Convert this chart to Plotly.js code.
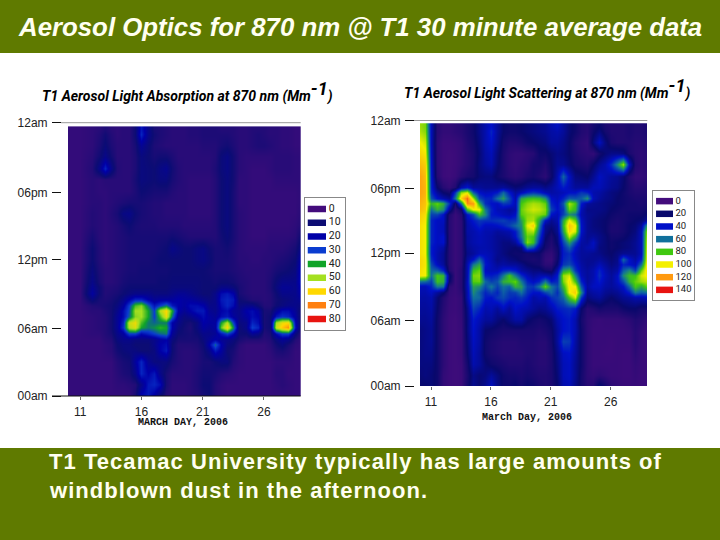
<!DOCTYPE html>
<html><head><meta charset="utf-8">
<script src="https://cdn.plot.ly/plotly-3.0.1.min.js"></script>
<style>html,body{margin:0;padding:0;background:#5f7a00}
text[data-unformatted^="T1 Tecamac"],text[data-unformatted^="windblown"]{letter-spacing:1.05px}</style></head>
<body><div id="c" style="width:720px;height:540px"></div>
<script>
const hourTicks=[0,5.9,12,17.85,24];
const hourLabels=['00am','06am','12pm','06pm','12am'];
const dayTicks=[11,16,21,26];
const absDays=[10,11,12,12.5,13,13.5,14,14.5,15,15.5,16,16.5,17,17.5,18,18.5,19,19.5,20,20.5,21,21.5,22,22.5,23,23.5,24,24.5,25,25.5,26,26.5,27,27.5,28,28.5,29];
const absHours=[0,1,2,3,4,4.5,5,5.5,6,6.5,7,7.5,8,8.5,9,9.5,10,11,12,13,14,15,16,17,18,19,20,21,22,23,23.45];
const absorption=[
[3,3,3,3,3,3,3,3,3,8,22,24,18,10,5,4,4,4,5,6,8,10,6,4,3,3,3,3,3,3,3,3,3,3,3,3,3],
[3,3,3,3,3,3,4,4,5,6,14,24,26,22,8,4,4,4,5,7,10,10,6,4,3,3,3,3,3,3,3,3,4,5,4,3,3],
[3,3,3,3,3,3,5,7,8,14,26,20,24,14,8,5,5,5,5,7,9,9,8,6,5,4,3,3,3,3,3,3,5,5,3,3,3],
[3,3,3,3,3,3,6,8,9,18,26,16,12,12,12,8,6,5,5,6,8,8,10,12,12,6,4,3,3,3,3,3,4,4,4,3,3],
[3,3,3,3,4,5,9,11,12,12,10,10,12,20,24,10,6,5,5,6,9,14,24,18,10,8,4,3,3,3,3,4,7,8,6,3,3],
[3,3,3,3,4,5,10,12,12,10,10,10,14,20,22,10,6,6,6,7,10,20,34,20,12,10,5,3,3,3,3,5,9,12,8,4,3],
[3,3,3,3,5,6,12,14,14,12,12,12,14,18,20,12,8,8,8,8,12,16,20,16,14,12,8,6,6,6,5,6,12,16,14,6,3],
[3,3,4,4,6,8,14,18,30,30,22,26,30,34,36,16,10,9,8,10,14,14,16,24,30,22,10,10,16,14,6,8,22,30,30,12,4],
[3,3,4,5,6,9,16,28,52,56,40,36,38,42,40,20,12,9,7,12,18,16,18,46,60,38,10,14,30,26,8,10,54,62,68,24,5],
[3,3,4,5,6,9,16,26,54,58,44,36,34,36,36,20,14,10,8,12,20,18,18,40,52,30,12,14,26,22,8,10,50,58,60,22,6],
[3,3,4,5,6,9,16,22,34,48,50,40,30,44,58,34,16,12,14,18,22,18,16,22,24,18,14,18,22,20,8,10,24,28,26,18,8],
[3,3,5,5,7,9,14,22,32,50,50,40,30,52,60,40,20,16,20,24,24,16,14,20,22,16,14,20,22,18,8,8,16,22,22,16,8],
[3,3,6,7,8,9,12,18,30,44,48,34,24,30,36,24,20,18,22,22,20,14,14,22,26,22,12,14,14,10,6,6,10,12,14,14,12],
[3,3,12,8,7,8,10,14,20,26,26,20,16,18,18,18,20,18,18,16,14,12,14,24,26,24,10,8,6,6,5,6,9,11,12,14,16],
[3,3,18,10,6,7,8,10,12,14,14,14,12,12,12,14,16,16,14,12,10,10,14,22,24,20,8,6,5,5,5,6,10,14,14,14,20],
[3,3,16,10,6,6,7,9,10,10,10,10,10,10,10,12,12,12,12,11,10,10,10,14,14,12,8,6,5,5,5,7,12,16,16,14,22],
[3,3,14,8,5,5,6,8,9,9,9,9,9,10,10,11,11,11,11,11,10,10,9,10,10,9,7,6,5,5,5,7,11,14,14,14,24],
[3,3,12,7,5,5,6,7,8,8,9,9,9,9,9,10,10,10,10,10,10,9,8,8,8,7,6,5,5,5,5,6,8,9,10,12,24],
[3,3,10,6,4,5,6,7,8,8,8,8,9,10,10,10,10,10,10,12,13,11,8,8,8,7,5,5,4,4,5,5,6,7,8,10,20],
[3,3,10,6,4,5,6,7,8,8,8,8,8,9,10,14,12,10,10,12,13,10,8,8,9,7,5,4,4,4,4,5,5,5,6,8,14],
[3,3,8,5,4,5,6,7,8,8,8,8,8,8,8,9,8,7,6,6,6,6,6,9,11,8,5,4,3,3,3,4,4,4,4,5,10],
[3,3,6,5,4,5,6,8,10,8,7,7,7,6,6,6,6,5,5,5,5,5,6,10,12,8,5,4,3,3,3,3,3,3,3,4,6],
[3,3,6,5,4,6,8,13,14,10,8,7,6,6,5,5,5,5,4,4,4,4,6,10,12,8,5,4,3,3,3,3,3,3,3,3,5],
[3,3,5,5,4,5,6,7,8,8,8,7,6,6,5,5,5,5,4,4,4,4,6,10,12,8,4,4,3,3,3,3,3,3,3,3,4],
[3,3,5,4,4,5,5,5,5,7,10,9,8,8,8,6,5,5,4,4,4,4,6,10,12,8,4,4,3,3,3,3,3,3,3,3,4],
[3,3,5,4,5,5,5,5,5,8,12,11,10,12,12,8,6,5,4,4,4,4,6,10,12,9,4,4,3,3,3,3,4,4,4,4,4],
[3,3,6,14,26,14,6,5,5,7,12,11,10,13,15,9,6,5,5,5,5,5,7,11,13,9,5,4,3,3,3,4,5,5,5,4,4],
[3,3,5,9,14,9,5,5,5,7,12,10,8,9,9,7,5,5,5,5,5,5,6,11,13,9,5,4,4,4,4,4,5,5,5,4,4],
[3,3,4,7,11,7,5,5,5,8,16,11,7,6,5,5,5,5,5,5,6,6,6,8,9,7,5,5,6,7,7,6,5,4,4,3,3],
[3,3,4,6,9,6,4,5,5,10,26,14,9,7,6,5,5,5,6,6,7,7,7,7,7,6,5,5,6,7,6,5,5,4,4,3,3],
[3,3,4,5,7,5,4,5,5,10,24,14,8,7,6,5,5,5,6,6,7,7,7,6,6,6,5,5,6,6,6,5,5,4,4,3,3]];
const scaDays=[10.1,10.5,11,11.5,12,12.5,13,13.5,14,14.5,15,15.5,16,16.5,17,17.5,18,18.5,19,19.5,20,20.5,21,21.5,22,22.5,23,23.5,24,24.5,25,25.5,26,26.5,27,27.5,28,28.5,29];
const scaHours=[0,1,2,3,4,5,6,7,8,8.5,9,9.5,10,10.5,11,11.5,12,12.5,13,13.5,14,14.5,15,15.5,16,16.5,17,17.5,18,19,20,21,22,23,23.5];
const scattering=[
[20,20,22,18,6,3,2,3,16,28,22,28,38,26,18,18,20,16,20,18,14,12,14,20,34,36,26,16,10,10,24,16,8,6,4,4,4,3,3],
[22,24,22,18,6,3,2,3,14,26,22,24,30,24,18,16,16,14,16,14,12,12,14,22,36,38,28,16,8,6,8,6,4,4,3,3,5,3,3],
[24,24,24,18,8,3,2,3,16,34,30,22,18,16,14,12,12,12,14,12,10,10,14,24,36,38,28,18,8,4,4,4,4,4,3,3,6,4,3],
[24,26,26,18,8,3,2,4,20,36,30,18,14,12,10,10,10,10,12,12,10,10,14,26,38,40,30,18,8,4,4,3,3,4,3,3,8,4,3],
[24,26,28,18,8,3,2,4,22,38,32,18,14,12,10,10,10,12,12,12,10,10,16,30,50,48,32,18,8,4,4,4,3,4,4,4,10,5,3],
[24,26,28,18,8,3,2,4,24,40,32,20,18,16,14,14,14,14,14,14,12,14,18,30,40,42,34,18,8,4,4,4,4,4,4,5,10,6,3],
[28,28,30,18,8,3,2,5,24,42,36,30,30,24,20,26,32,32,22,18,16,18,22,34,40,42,34,16,8,5,4,5,5,5,6,8,12,10,6],
[30,30,32,20,10,4,3,6,26,50,44,34,36,30,38,30,40,36,34,30,26,28,34,42,44,46,42,20,10,12,16,14,14,14,18,20,20,16,16],
[32,32,34,22,12,5,3,6,34,60,58,42,40,48,52,46,44,48,42,32,36,34,46,50,58,80,96,48,24,28,30,24,20,24,28,30,34,34,36],
[34,34,38,30,22,6,4,8,34,66,56,44,50,44,56,48,50,60,46,40,40,50,58,46,66,100,108,66,28,32,34,28,26,28,34,42,62,56,60],
[36,36,44,62,60,8,4,10,36,70,66,52,62,50,60,56,74,70,50,48,62,84,62,52,76,102,100,54,32,38,38,32,30,34,40,58,80,72,84],
[60,58,50,78,74,20,4,10,36,82,84,58,50,54,74,78,84,62,44,38,44,62,42,46,86,104,80,44,30,36,42,34,30,38,52,74,84,90,94],
[102,100,60,80,76,24,4,10,34,86,88,44,42,46,62,80,62,46,36,30,34,34,30,42,90,96,64,36,30,34,46,36,30,38,66,78,78,96,102],
[104,100,58,56,44,12,4,10,34,78,84,38,36,36,44,46,42,32,28,24,24,18,16,34,70,76,48,34,30,34,44,34,28,32,56,66,50,84,106],
[106,102,52,38,30,10,4,8,34,62,72,42,36,30,32,30,30,26,20,18,16,8,8,22,48,52,42,32,28,30,36,30,24,28,44,40,36,60,106],
[106,102,46,34,28,10,4,8,30,40,58,40,34,26,28,24,22,18,16,14,16,6,4,18,44,48,38,30,28,28,30,26,22,26,58,40,32,44,104],
[104,100,42,34,28,10,4,8,26,30,36,36,34,28,24,20,18,18,16,18,18,8,6,16,42,46,36,30,30,28,26,22,20,24,28,28,28,36,104],
[104,100,42,36,32,10,4,8,28,32,34,34,32,28,24,22,20,24,60,52,30,16,10,18,44,56,40,30,34,36,24,22,18,20,22,24,28,36,102],
[104,100,44,38,40,10,4,8,30,34,36,34,32,28,24,24,30,50,88,78,42,18,12,22,50,70,50,32,30,38,26,22,18,20,22,24,28,36,100],
[104,100,44,38,40,10,4,8,30,34,36,34,32,28,28,30,40,60,84,80,50,22,14,24,60,94,74,36,28,30,26,22,16,16,18,22,26,36,96],
[104,100,44,38,36,10,4,8,32,34,38,34,34,30,32,34,42,62,90,92,56,26,18,28,70,106,96,40,28,26,24,20,14,14,16,20,24,36,92],
[104,100,44,38,36,10,4,8,32,38,44,38,38,40,44,50,58,66,98,108,64,28,24,30,76,110,100,40,28,24,22,20,14,14,16,20,22,30,70],
[106,102,44,38,38,10,4,8,34,42,48,46,46,48,50,46,48,70,90,92,72,40,28,34,72,100,84,38,28,24,22,20,16,14,16,18,20,22,30],
[108,104,50,50,40,12,4,10,40,52,78,66,42,40,36,34,40,82,88,90,88,84,40,36,50,66,60,34,28,26,24,22,18,16,16,18,18,18,22],
[112,108,60,74,66,30,8,18,80,100,100,62,44,36,34,30,34,84,92,96,94,88,50,40,48,84,76,36,26,26,26,24,20,18,16,16,16,16,18],
[114,110,76,84,74,48,14,60,122,120,74,46,40,38,48,46,36,80,88,92,90,84,44,38,54,92,80,42,30,28,26,24,22,20,18,16,16,14,16],
[116,112,54,40,34,28,62,108,128,92,52,44,44,60,70,52,34,72,78,80,78,68,40,36,44,56,54,56,68,36,30,26,24,20,18,16,14,14,14],
[118,114,46,30,20,16,48,90,98,56,40,36,38,42,58,42,30,36,44,48,44,36,32,34,36,40,40,48,44,34,32,28,24,22,18,14,12,12,12],
[118,114,44,20,10,6,12,34,42,30,30,28,28,28,30,26,22,24,28,30,30,26,30,36,42,36,30,30,30,36,36,32,28,26,20,14,10,10,12],
[118,112,42,10,3,2,4,10,14,16,22,24,24,18,14,10,8,10,14,16,12,8,18,34,58,38,24,22,20,28,38,34,30,28,22,12,6,6,8],
[112,108,40,8,3,2,3,6,10,14,24,30,34,22,14,8,6,8,10,16,16,12,20,28,28,22,16,14,12,20,28,34,46,66,90,38,12,8,10],
[106,102,38,8,3,2,3,6,10,14,22,32,36,24,14,8,6,6,8,10,18,18,22,26,24,20,14,10,8,6,16,22,26,26,24,14,10,8,10],
[100,96,36,8,3,3,4,6,12,16,24,34,40,28,16,12,12,14,18,20,22,24,30,30,26,20,12,8,6,24,38,24,14,12,12,12,10,10,12],
[92,88,36,10,6,6,8,10,14,18,26,34,44,30,20,18,18,20,22,24,26,28,32,34,30,22,18,12,10,18,24,16,12,12,12,14,12,12,14],
[90,86,36,10,6,6,8,10,14,18,26,34,40,30,20,18,18,20,22,24,26,28,34,38,30,22,18,12,10,16,20,14,12,12,12,14,12,12,14]];
const absLevels=[0,10,20,30,40,50,60,70,80];
const absColors=['#430c7c','#0c0c74','#0000a8','#0a3cd0','#10a428','#a4e020','#ffd800','#ff8010','#e81410'];
const scaLevels=[0,20,40,60,80,100,120,140];
const scaColors=['#430c7c','#08086c','#0010c8','#10709c','#40c810','#f4f000','#ff9a10','#e81410'];
const GREEN='#5f7a00',CREAM='#fffff0';
const px=x=>x/720, py=y=>1-y/540;
const scale=(lv,co)=>lv.map((v,i)=>[(v-lv[0])/(lv[lv.length-1]-lv[0]),co[i]]);
const traces=[
{type:'heatmap',x:absDays,y:absHours,z:absorption,zsmooth:'best',zmin:0,zmax:80,colorscale:scale(absLevels,absColors),showscale:false,xaxis:'x',yaxis:'y'},
{type:'heatmap',x:scaDays,y:scaHours,z:scattering,zsmooth:'best',zmin:0,zmax:140,colorscale:scale(scaLevels,scaColors),showscale:false,xaxis:'x2',yaxis:'y2'}];
function legend(levels,colors,xa,ya,size){
  levels.forEach((v,i)=>{
    traces.push({type:'scatter',mode:'lines',x:[0,1],y:[i,i],line:{color:colors[i],width:6.5},xaxis:xa,yaxis:ya,showlegend:false,hoverinfo:'skip'});
  });
  traces.push({type:'scatter',mode:'text',x:levels.map(()=>1.15),y:levels.map((v,i)=>i),text:levels.map(String),textposition:'middle right',
    textfont:{family:'Roboto',size:size,color:'#222'},xaxis:xa,yaxis:ya,showlegend:false,hoverinfo:'skip'});
}
legend(absLevels,absColors,'x3','y3',10.5);
legend(scaLevels,scaColors,'x4','y4',9.5);
const tickFont={family:'Liberation Sans',size:12,color:'#222'};
const yAx=(dom,pos)=>({domain:dom,range:[0,24],anchor:'free',position:pos,tickmode:'array',tickvals:hourTicks,ticktext:hourLabels,ticks:'outside',ticklen:9,tickwidth:1,tickcolor:'#111',tickfont:tickFont,ticklabelstandoff:2,showgrid:false,zeroline:false,showline:false});
const xAx=(dom,rng,an)=>({domain:dom,range:rng,anchor:an,tickmode:'array',tickvals:dayTicks,ticks:'outside',ticklen:3,tickcolor:'#666',tickfont:tickFont,ticklabelstandoff:2,showgrid:false,zeroline:false,showline:false});
const boxX=(dom,rng,an)=>({domain:dom,range:rng,anchor:an,tickmode:'array',tickvals:[],showticklabels:false,ticks:'',showgrid:false,zeroline:false,showline:true,mirror:true,linecolor:'#888',linewidth:1});
const boxY=(dom,rng,an)=>({domain:dom,range:rng,anchor:an,tickmode:'array',tickvals:[],showticklabels:false,ticks:'',showgrid:false,zeroline:false,showline:true,mirror:true,linecolor:'#888',linewidth:1});
const note=(text,x,y,font,anchor)=>({text:text,xref:'paper',yref:'paper',x:px(x),y:py(y),xanchor:anchor||'left',align:anchor||'left',yanchor:'middle',showarrow:false,font:font});
const panelTitle={family:'Roboto',size:14,color:'#000',weight:700,style:'italic'};
const supOne='<sup><span style="font-size:18px">-1</span></sup>';
const mono={family:'Liberation Mono',size:10,color:'#111',weight:700};
const slide={family:'Liberation Sans',size:22,color:CREAM,weight:700};
const layout={
 width:720,height:540,margin:{l:0,r:0,t:0,b:0},paper_bgcolor:GREEN,plot_bgcolor:'#fff',showlegend:false,
 xaxis:xAx([px(68),px(300.7)],[10,29],'y'),
 yaxis:yAx([py(396),py(122.7)],px(61)),
 xaxis2:xAx([px(420),px(647.3)],[10.08,29.06],'y2'),
 yaxis2:yAx([py(386),py(120.5)],px(414)),
 xaxis3:boxX([px(305),px(345)],[-0.15,2.04],'y3'),
 yaxis3:boxY([py(330),py(198)],[8.8,-0.8],'x3'),
 xaxis4:boxX([px(653),px(694)],[-0.18,2.24],'y4'),
 yaxis4:boxY([py(300),py(191)],[7.8,-0.8],'x4'),
 shapes:[
  {type:'rect',layer:'below',xref:'paper',yref:'paper',x0:0,x1:1,y0:py(448),y1:py(53),fillcolor:'#fff',line:{width:0}},
  {type:'line',xref:'paper',yref:'paper',x0:px(52),x1:px(300.7),y0:py(396),y1:py(396),line:{color:'#111',width:1}},
  {type:'line',xref:'paper',yref:'paper',x0:px(61),x1:px(300.7),y0:py(122.7),y1:py(122.7),line:{color:'#999',width:1}},
  {type:'line',xref:'paper',yref:'paper',x0:px(414),x1:px(647.3),y0:py(120.5),y1:py(120.5),line:{color:'#999',width:1}}
 ],
 annotations:[
  note('Aerosol Optics for 870 nm @ T1 30 minute average data',360,27,{family:'Liberation Sans',size:25.8,color:CREAM,weight:700,style:'italic'},'center'),
  note('T1 Aerosol Light Absorption at 870 nm (Mm'+supOne+')',187,91,panelTitle,'center'),
  note('T1 Aerosol Light Scattering at 870 nm (Mm'+supOne+')',547,89,panelTitle,'center'),
  note('MARCH DAY, 2006',183,422,mono,'center'),
  note('March Day, 2006',527,417,mono,'center'),
  note('T1 Tecamac University typically has large amounts of',47,461,slide),
  note('windblown dust in the afternoon.',47,490,slide)
 ]
};
Plotly.newPlot('c',traces,layout,{displayModeBar:false,staticPlot:true});
</script></body></html>
